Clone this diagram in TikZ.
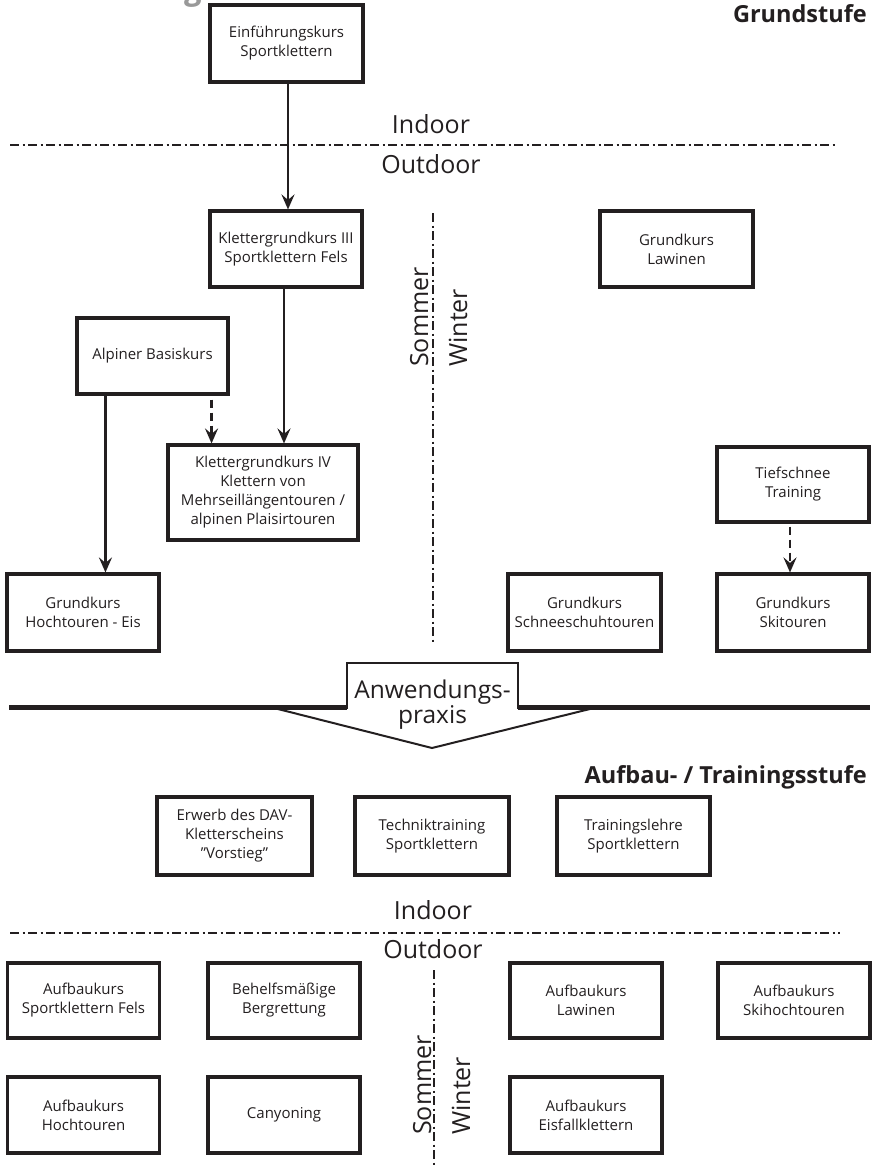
\documentclass[tikz,border=0pt]{standalone}
\usepackage{fontspec}
\setmainfont{Open Sans}
\usetikzlibrary{arrows.meta}
\definecolor{ink}{HTML}{231F20}
\begin{document}
\begin{tikzpicture}[x=1pt,y=-1pt,
  box/.style={draw=ink, line width=3.1pt, minimum width=152pt, minimum height=76pt,
    align=center, text=ink, font=\fontsize{15}{19}\selectfont, inner sep=2pt},
  arr/.style={draw=ink, line width=2.6pt, -{Stealth[length=15pt,width=13pt,inset=5.5pt]}},
  darr/.style={arr, dash pattern=on 8pt off 5pt},
  sep/.style={draw=ink, line width=2.4pt, dash pattern=on 9pt off 3.5pt on 2pt off 3.5pt},
  big/.style={text=ink, font=\fontsize{25}{27}\selectfont, inner sep=0pt},
  head/.style={text=ink, font=\fontsize{23.5}{25}\selectfont\bfseries, inner sep=0pt},
]
\useasboundingbox (0,0) rectangle (874,1165);

% cut-off title fragment
\node[text=black!40, font=\fontsize{33}{33}\selectfont\bfseries\itshape, anchor=base, inner sep=0pt] (frag) at (195,-1) {g};

% headings
\node[head, anchor=base east] (grund) at (867,22) {Grundstufe};
\node[head, anchor=base east] (aufbau) at (867,783) {Aufbau- / Trainingsstufe};

% upper indoor/outdoor
\node[big, anchor=base] (in1) at (431,133) {Indoor};
\node[big, anchor=base] (out1) at (431,173) {Outdoor};
\coordinate (h1a) at (10,145);
\coordinate (h1b) at (835,145);
\draw[sep] (h1a) -- (h1b);

% upper summer/winter
\coordinate (v1a) at (433,213);
\coordinate (v1b) at (433,642);
\draw[sep] (v1a) -- (v1b);
\node[big, rotate=90, anchor=base west] (som1) at (428,367) {Sommer};
\node[big, rotate=90, anchor=base west] (win1) at (467,367) {Winter};

% Grundstufe boxes
\node[box, minimum width=153pt, minimum height=77pt] (e1) at (286.5,43.5) {Einführungskurs\\Sportklettern};
\node[box] (k3) at (286,249) {Klettergrundkurs III\\Sportklettern Fels};
\node[box, minimum width=151pt] (ab) at (152.5,356) {Alpiner Basiskurs};
\node[box, minimum width=190pt, minimum height=95pt] (k4) at (263,492.5) {Klettergrundkurs IV\\Klettern von\\Mehrseillängentouren /\\alpinen Plaisirtouren};
\node[box, minimum height=77pt] (he) at (83,612.5) {Grundkurs\\Hochtouren - Eis};
\node[box, minimum width=153pt] (gl) at (676.5,249) {Grundkurs\\Lawinen};
\node[box, minimum height=75pt] (ts) at (793,484.5) {Tiefschnee\\Training};
\node[box, minimum height=77pt] (sk) at (793,612.5) {Grundkurs\\Skitouren};
\node[box, minimum width=153pt, minimum height=77pt] (ss) at (584.5,612.5) {Grundkurs\\Schneeschuhtouren};

% connectors
\draw[arr] ([xshift=1.5pt]e1.south) -- ([xshift=1.5pt]e1.south |- k3.north);
\draw[arr] ([xshift=-2pt]k3.south) -- ([xshift=-2pt]k3.south |- k4.north);
\draw[arr] ([xshift=30pt]ab.south west) -- ([xshift=30pt]ab.south west |- he.north);
\draw[darr] ([xshift=-18pt,yshift=-4pt]ab.south east) -- ([xshift=-18pt]ab.south east |- k4.north);
\draw[darr] ([xshift=-3pt,yshift=-3pt]ts.south) -- ([xshift=-3pt]ts.south |- sk.north);

% Anwendungspraxis
\draw[draw=ink, line width=5pt] (9,707) -- (347,707);
\draw[draw=ink, line width=5pt] (518,707) -- (870,707);
\draw[draw=ink, line width=2pt] (270,707) -- (432,748) -- (598,707);
\draw[draw=ink, line width=2pt, line join=miter] (347,709) -- (347,663) -- (518,663) -- (518,709);
\node[big, align=center, font=\fontsize{24.5}{22}\selectfont] (ap) at (432.5,705) {Anwendungs-\\praxis};

% middle indoor boxes
\node[box, minimum width=155pt, minimum height=78pt] (dav) at (234.5,836) {Erwerb des DAV-\\Kletterscheins\\"Vorstieg"};
\node[box, minimum width=154pt, minimum height=78pt] (tt) at (432,836) {Techniktraining\\Sportklettern};
\node[box, minimum width=153pt, minimum height=78pt] (tl) at (633.5,836) {Trainingslehre\\Sportklettern};

% lower indoor/outdoor
\node[big, anchor=base] (in2) at (433,919) {Indoor};
\node[big, anchor=base] (out2) at (433,958) {Outdoor};
\coordinate (h2a) at (10,933);
\coordinate (h2b) at (840,933);
\draw[sep] (h2a) -- (h2b);
\coordinate (v2a) at (434,970);
\coordinate (v2b) at (434,1165);
\draw[sep] (v2a) -- (v2b);
\node[big, rotate=90, anchor=base west] (som2) at (431,1135) {Sommer};
\node[big, rotate=90, anchor=base west] (win2) at (470,1135) {Winter};

% lower boxes
\node[box, minimum height=75pt] (a1) at (83.5,1000.5) {Aufbaukurs\\Sportklettern Fels};
\node[box, minimum height=75pt] (a2) at (284,1000.5) {Behelfsmäßige\\Bergrettung};
\node[box, minimum height=75pt] (a3) at (586,1000.5) {Aufbaukurs\\Lawinen};
\node[box, minimum height=75pt] (a4) at (794,1000.5) {Aufbaukurs\\Skihochtouren};
\node[box] (a5) at (83.5,1115) {Aufbaukurs\\Hochtouren};
\node[box] (a6) at (284,1115) {Canyoning};
\node[box] (a7) at (586,1115) {Aufbaukurs\\Eisfallklettern};
\end{tikzpicture}
\end{document}
